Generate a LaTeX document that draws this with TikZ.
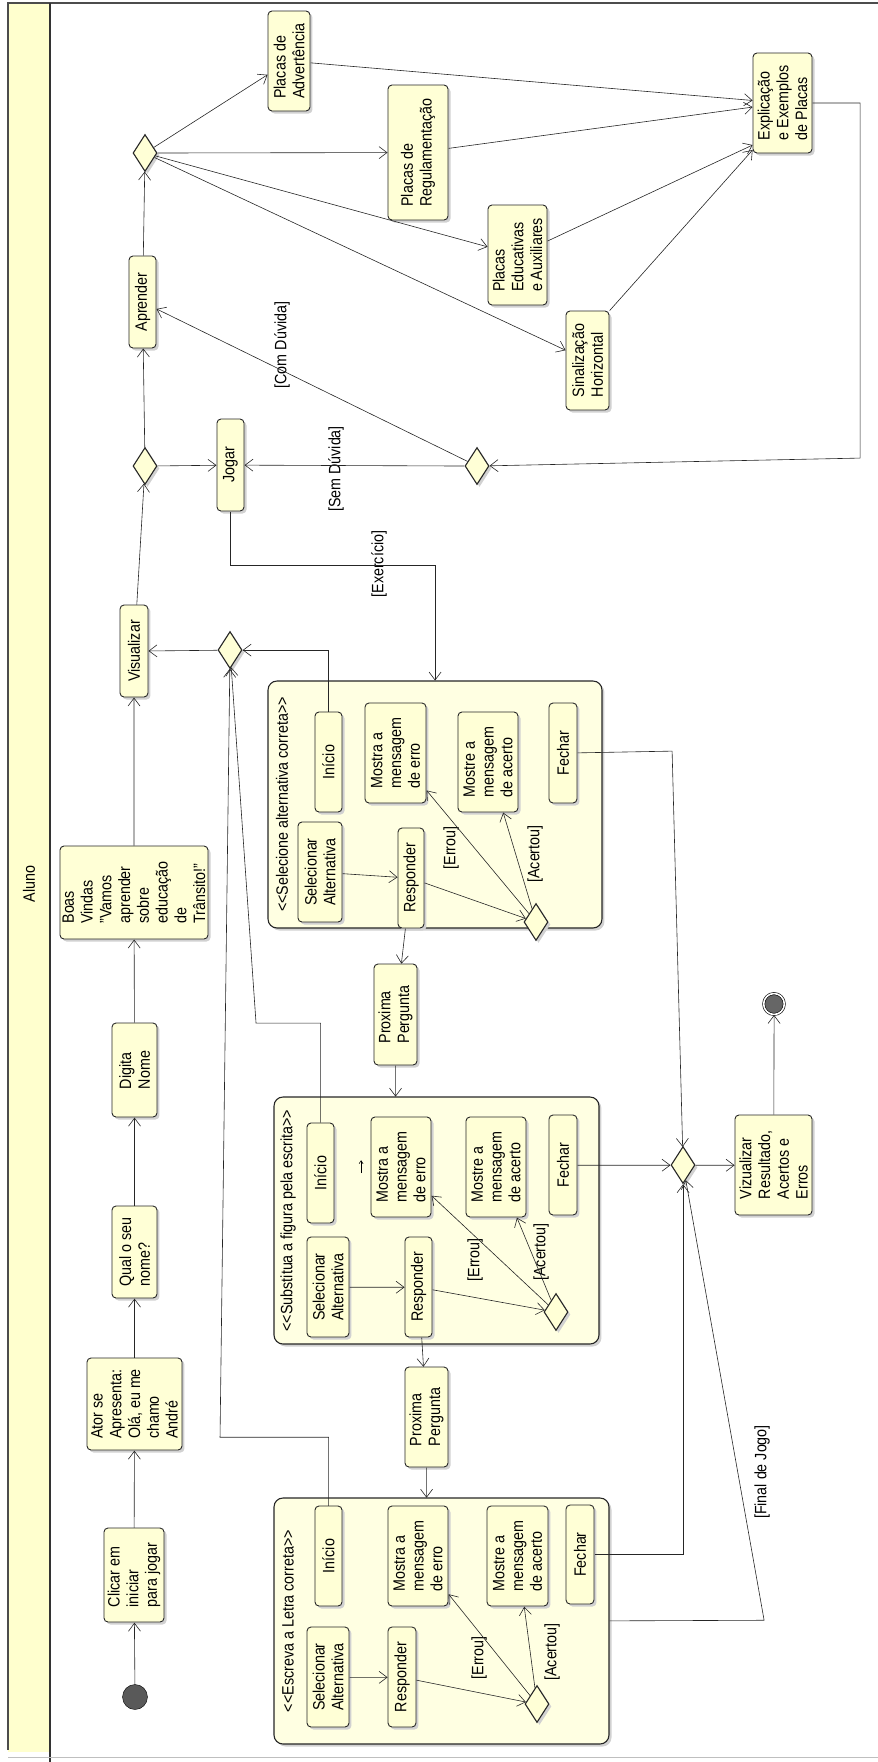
\documentclass[tikz,border=0pt]{standalone}
\usepackage{fontspec}
\setmainfont{Liberation Sans}
\usetikzlibrary{arrows.meta,shapes.geometric,shadows,calc}
\definecolor{actFill}{RGB}{255,255,214}
\definecolor{grpFill}{RGB}{255,255,226}
\definecolor{laneFill}{RGB}{255,255,206}
\newcommand{\dlt}{<\kern0pt<}
\newcommand{\dgt}{>\kern0pt>}

\begin{document}
\begin{tikzpicture}[
    x={(0pt,-0.869565pt)}, y={(-1pt,0pt)},
    rotate=90, yscale=1.15, transform shape,
    font=\fontsize{14.3pt}{16.3pt}\selectfont,
    sz/.style 2 args={minimum width=#1pt, minimum height=#2pt},
    shdw/.style={drop shadow={shadow xshift=2.5pt, shadow yshift=-2.5pt, fill=black!18, opacity=1}},
    act/.style={shdw, draw=black!85, line width=0.9pt, rounded corners=4pt, fill=actFill, align=left, inner sep=1.5pt},
    grp/.style={shdw, draw=black!85, line width=1.1pt, rounded corners=9pt, fill=grpFill, inner sep=0pt},
    dec/.style={shdw, diamond, draw=black!85, line width=1.1pt, fill=actFill, inner sep=0pt, minimum width=37pt, minimum height=20.9pt},
    initN/.style={ellipse, draw=black, fill=black!65, inner sep=0pt, minimum width=25pt, minimum height=21.7pt},
    finN/.style={ellipse, draw=black, line width=0.6pt, double=white, double distance=1.6pt, fill=black!60, inner sep=0pt, minimum width=21pt, minimum height=18pt},
    flow/.style={-{Straight Barb[length=8pt, width=12pt]}, line width=0.6pt, black!85},
    txt/.style={inner sep=0pt},
]
\useasboundingbox (0,0) rectangle (878,1762);
% swimlane
\fill[laneFill] (8,3) rectangle (50,1752);
\draw[line width=1.6pt, black!70] (8,1750) -- (8,3) -- (878,3);
\draw[line width=1.2pt, black!80] (50,3) -- (50,1762);
\draw[line width=0.8pt, black!25] (8,1757) -- (878,1757);
\node[txt] (lane) at (29,884) {Aluno};

% groups
\node[grp, sz={247}{290.4}] (c1) at (435,804.5) {};
\node[grp, sz={247}{282.6}] (c2) at (436.5,1220.5) {};
\node[grp, sz={246}{291.3}] (c3) at (441.5,1621) {};
\node[txt] (c1t) at (282,804.5) {\dlt Selecione alternativa correta\dgt};
\node[txt] (c2t) at (288,1220.5) {\dlt Substitua a figura pela escrita\dgt};
\node[txt] (c3t) at (288,1621) {\dlt Escreva a Letra correta\dgt};

% main flow
\node[initN] (ini) at (135,1697) {};
\node[act, sz={94}{52.2}] (clic) at (134,1575) {Clicar em\\iniciar\\para jogar};
\node[act, sz={92}{82.6}] (ator) at (134.5,1404) {Ator se\\Apresenta:\\Olá, eu me\\chamo\\André};
\node[act, sz={92}{39.1}] (qual) at (134.5,1252) {Qual o seu\\nome?};
\node[act, sz={94}{39.1}] (dig) at (134.5,1070) {Digita\\Nome};
\node[act, sz={93}{128.7}] (boas) at (134,892.5) {Boas\\Vindas\\"Vamos\\aprender\\sobre\\educação\\de\\Trânsito!"};
\node[act, sz={92}{24.3}] (vis) at (134,651) {Visualizar};
\node[dec] (dM) at (230,650) {};
\node[dec] (dL) at (145,466) {};
\node[act, sz={92}{23.5}] (jog) at (230.5,465) {Jogar};
\node[dec] (dR) at (477,466) {};
\node[act, sz={92}{23.5}] (apr) at (142.5,302) {Aprender};
\node[dec] (dT) at (145,153) {};

% placas
\node[act, sz={100}{36.5}] (adv) at (289,61) {Placas de\\Advertência};
\node[act, sz={135}{52.2}] (reg) at (418,152.5) {Placas de\\Regulamentação};
\node[act, sz={100}{51.3}] (edu) at (517.5,255) {Placas\\Educativas\\e Auxiliares};
\node[act, sz={99}{37.4}] (sin) at (587.5,360.5) {Sinalização\\Horizontal};
\node[act, sz={100}{51.3}] (expl) at (782.5,103) {Explicação\\e Exemplos\\de Placas};

% selecione alternativa correta
\node[act, sz={100}{23.5}] (ini1) at (328.5,762) {Início};
\node[act, sz={100}{53}] (err1) at (395.5,753) {Mostra a\\mensagem\\de erro};
\node[act, sz={100}{52.2}] (acc1) at (488,762) {Mostre a\\mensagem\\de acerto};
\node[act, sz={100}{24.3}] (fe1) at (563,753) {Fechar};
\node[act, sz={100}{38.3}] (sel1) at (320,872) {Selecionar\\Alternativa};
\node[act, sz={100}{22.6}] (resp1) at (411,878) {Responder};
\node[dec] (d1) at (536,922) {};
\node[act, sz={101}{37.4}] (prox1) at (395.5,1014.5) {Proxima\\Pergunta};

% substitua a figura
\node[act, sz={100}{23.5}] (ini2) at (320.5,1173) {Início};
\node[act, sz={100}{52.2}] (err2) at (401,1167) {Mostra a\\mensagem\\de erro};
\node[act, sz={100}{52.2}] (acc2) at (496,1167) {Mostre a\\mensagem\\de acerto};
\node[act, sz={100}{24.3}] (fe2) at (563,1165) {Fechar};
\node[act, sz={100}{36.5}] (sel2) at (328,1287) {Selecionar\\Alternativa};
\node[act, sz={100}{23.5}] (resp2) at (418.5,1287) {Responder};
\node[dec] (d2) at (556,1312) {};
\node[act, sz={100}{37.4}] (prox2) at (426.5,1417) {Proxima\\Pergunta};

% escreva a letra
\node[act, sz={100}{23.5}] (ini3) at (328.5,1556) {Início};
\node[act, sz={100}{52.2}] (err3) at (418,1556) {Mostra a\\mensagem\\de erro};
\node[act, sz={100}{53}] (acc3) at (517.5,1556) {Mostre a\\mensagem\\de acerto};
\node[act, sz={99}{24.3}] (fe3) at (580,1554.5) {Fechar};
\node[act, sz={100}{36.5}] (sel3) at (328,1677) {Selecionar\\Alternativa};
\node[act, sz={100}{24.3}] (resp3) at (402,1677) {Responder};
\node[dec] (d3) at (537,1704) {};

% fim
\node[dec] (dF) at (683,1165) {};
\node[act, sz={100}{67}] (viz) at (773.5,1165) {Vizualizar\\Resultado,\\Acertos e\\Erros};
\node[finN] (fin) at (774,1004) {};

% guards
\node[txt] (gCom) at (282,345) {[Com Dúvida]};
\node[txt] (gSem) at (336,469) {[Sem Dúvida]};
\node[txt] (gExe) at (379,564) {[Exercício]};
\node[txt] (gE1) at (451,848) {[Errou]};
\node[txt] (gA1) at (535,854) {[Acertou]};
\node[txt] (gE2) at (475,1260) {[Errou]};
\node[txt] (gA2) at (541,1252) {[Acertou]};
\node[txt] (gE3) at (479,1658) {[Errou]};
\node[txt] (gA3) at (552,1652) {[Acertou]};
\node[txt] (gFim) at (762,1472) {[Final de Jogo]};

% connectors
\draw[flow] (ini) -- (clic);
\draw[flow] (clic) -- (ator);
\draw[flow] (ator) -- (qual);
\draw[flow] (qual) -- (dig);
\draw[flow] (dig) -- (boas);
\draw[flow] (boas) -- (vis);
\draw[flow] (vis) -- (dL);
\draw[flow] (dL) -- (apr);
\draw[flow] (dL) -- (jog);
\draw[flow] (apr) -- (dT);
\foreach \dst in {adv,reg,edu,sin}
  \draw[flow] (dT) -- (\dst);
\draw[flow] (adv) -- (expl);
\draw[flow] (reg) -- (expl);
\draw[flow] (edu) -- ($(expl.north)+(0,42)$);
\draw[flow] (sin.south east) -- ($(expl.north)+(0,47)$);
\coordinate (eR) at (860,458);
\draw[flow] (expl) |- (eR) -- (dR);
\draw[flow] (dR) -- (apr);
\draw[flow] (dR) -- (jog);
\coordinate (jE) at (435,565);
\draw[flow] (jog) -| (jE) -- (c1.east);
\draw[flow] (dM) -- (vis);
\draw[flow] (ini1) -| (dM);
\coordinate (i2a) at (256,1023);
\draw[flow] (ini2) -| (i2a) -- (dM);
\coordinate (i3a) at (220,1437);
\draw[flow] (ini3) -| (i3a) -- (dM);
\foreach \n in {1,2,3} {
  \draw[flow] (sel\n) -- (resp\n);
  \draw[flow] (resp\n) -- (d\n);
  \draw[flow] (d\n) -- (err\n);
  \draw[flow] (d\n) -- (acc\n);
}
\draw[flow] (resp1) -- (prox1);
\draw[flow] (prox1) -- (prox1 -| c2.east);
\draw[flow] (resp2) -- (prox2);
\draw[flow] (prox2) -- (prox2 -| c3.east);
\coordinate (tk1) at (361,1173);
\coordinate (tk2) at (361,1160);
\draw[-{Straight Barb[length=3pt, width=4pt]}, line width=0.6pt] (tk1) -- (tk2);
\coordinate (f1a) at (672,751);
\draw[flow] (fe1) -- (f1a) -- (dF);
\draw[flow] (fe2) -- (dF);
\draw[flow] (fe3) |- (dF);
\coordinate (c3a) at (764,1620);
\draw[flow] (c3) -- (c3a) -- (dF);
\draw[flow] (dF) -- (viz);
\draw[flow] (viz) -- (fin);
\end{tikzpicture}
\end{document}
